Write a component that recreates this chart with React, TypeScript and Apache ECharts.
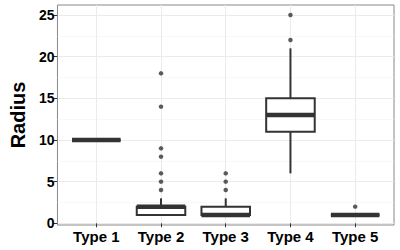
import React, { useEffect, useRef } from "react";
import * as echarts from "echarts";

const categories = ["Type 1", "Type 2", "Type 3", "Type 4", "Type 5"];
// [min whisker, Q1, median, Q3, max whisker]
const boxStats = [
  [10, 10, 10, 10, 10],
  [1, 1, 2, 2, 3],
  [1, 1, 1, 2, 3],
  [6, 11, 13, 15, 21],
  [1, 1, 1, 1, 1],
];
const outliers = [
  [2, 4], [2, 5], [2, 6], [2, 8], [2, 9], [2, 14], [2, 18],
  [3, 4], [3, 5], [3, 6],
  [4, 22], [4, 25],
  [5, 2],
];
const yTicks = [0, 5, 10, 15, 20, 25];
const yMinor = [2.5, 7.5, 12.5, 17.5, 22.5];
const xPositions = [1, 2, 3, 4, 5];

const ink = "#333333";
const font = "Liberation Sans, Arial, sans-serif";

export default function App() {
  const ref = useRef<HTMLDivElement>(null);
  useEffect(() => {
    const chart = echarts.init(ref.current!, undefined, { renderer: "svg" });
    const boxData = boxStats.map((s, i) => [xPositions[i], ...s]);
    chart.setOption({
      animation: false,
      grid: {
        left: 52,
        right: 6,
        top: 5,
        bottom: 25,
        show: true,
        borderColor: "#888888",
        borderWidth: 1,
        backgroundColor: "transparent",
      },
      xAxis: {
        type: "value",
        min: 0.4,
        max: 5.6,
        axisLine: { show: false },
        axisTick: { show: true, length: 4, customValues: xPositions, lineStyle: { color: ink, width: 1 } },
        axisLabel: {
          customValues: xPositions,
          formatter: (v: number) => categories[Math.round(v) - 1] ?? "",
          fontFamily: font,
          fontWeight: "bold",
          fontSize: 15,
          color: "#000",
          margin: 4,
        },
        splitLine: { show: true, lineStyle: { color: "#EBEBEB", width: 1 } },
      },
      yAxis: [
        {
          type: "value",
          min: -0.2,
          max: 26.2,
          name: "Radius",
          nameLocation: "middle",
          nameGap: 24,
          nameTextStyle: {
            fontFamily: font,
            fontWeight: "bold",
            fontSize: 20,
            color: "#000",
          },
          axisLine: { show: false },
          axisTick: { show: true, length: 4, customValues: yTicks, lineStyle: { color: ink, width: 1 } },
          axisLabel: {
            customValues: yTicks,
            fontFamily: font,
            fontWeight: "bold",
            fontSize: 14,
            color: "#000",
            margin: 3,
          },
          splitLine: { show: true, lineStyle: { color: "#EBEBEB", width: 1 } },
        },
        {
          type: "value",
          min: -0.2,
          max: 26.2,
          position: "left",
          axisLine: { show: false },
          axisTick: { show: false, customValues: yMinor },
          axisLabel: { show: false, customValues: yMinor },
          splitLine: { show: true, lineStyle: { color: "#F4F4F4", width: 0.6 } },
        },
      ],
      series: [
        {
          type: "custom",
          yAxisIndex: 0,
          data: boxData,
          encode: { x: 0, y: [1, 2, 3, 4, 5] },
          renderItem: (params: any, api: any) => {
            const x = api.value(0);
            const lo = api.value(1);
            const q1 = api.value(2);
            const med = api.value(3);
            const q3 = api.value(4);
            const hi = api.value(5);
            const w = api.size([0.75, 0])[0];
            const pLo = api.coord([x, lo]);
            const pQ1 = api.coord([x, q1]);
            const pMed = api.coord([x, med]);
            const pQ3 = api.coord([x, q3]);
            const pHi = api.coord([x, hi]);
            const cx = pMed[0];
            const children: any[] = [];
            children.push({
              type: "line",
              shape: { x1: cx, y1: pQ3[1], x2: cx, y2: pHi[1] },
              style: { stroke: ink, lineWidth: 2 },
            });
            children.push({
              type: "line",
              shape: { x1: cx, y1: pQ1[1], x2: cx, y2: pLo[1] },
              style: { stroke: ink, lineWidth: 2 },
            });
            children.push({
              type: "rect",
              shape: { x: cx - w / 2, y: pQ3[1], width: w, height: pQ1[1] - pQ3[1] },
              style: { fill: "#ffffff", stroke: ink, lineWidth: 2 },
            });
            children.push({
              type: "line",
              shape: { x1: cx - w / 2, y1: pMed[1], x2: cx + w / 2, y2: pMed[1] },
              style: { stroke: ink, lineWidth: 4.5 },
            });
            return { type: "group", children };
          },
          z: 3,
        },
        {
          type: "scatter",
          yAxisIndex: 0,
          data: outliers,
          symbol: "circle",
          symbolSize: 4.5,
          itemStyle: { color: ink },
          z: 4,
        },
      ],
    });
    return () => chart.dispose();
  }, []);
  return (
    <div
      ref={ref}
      style={{ position: "fixed", left: 0, top: 0, width: 400, height: 250, background: "#fff" }}
    />
  );
}
